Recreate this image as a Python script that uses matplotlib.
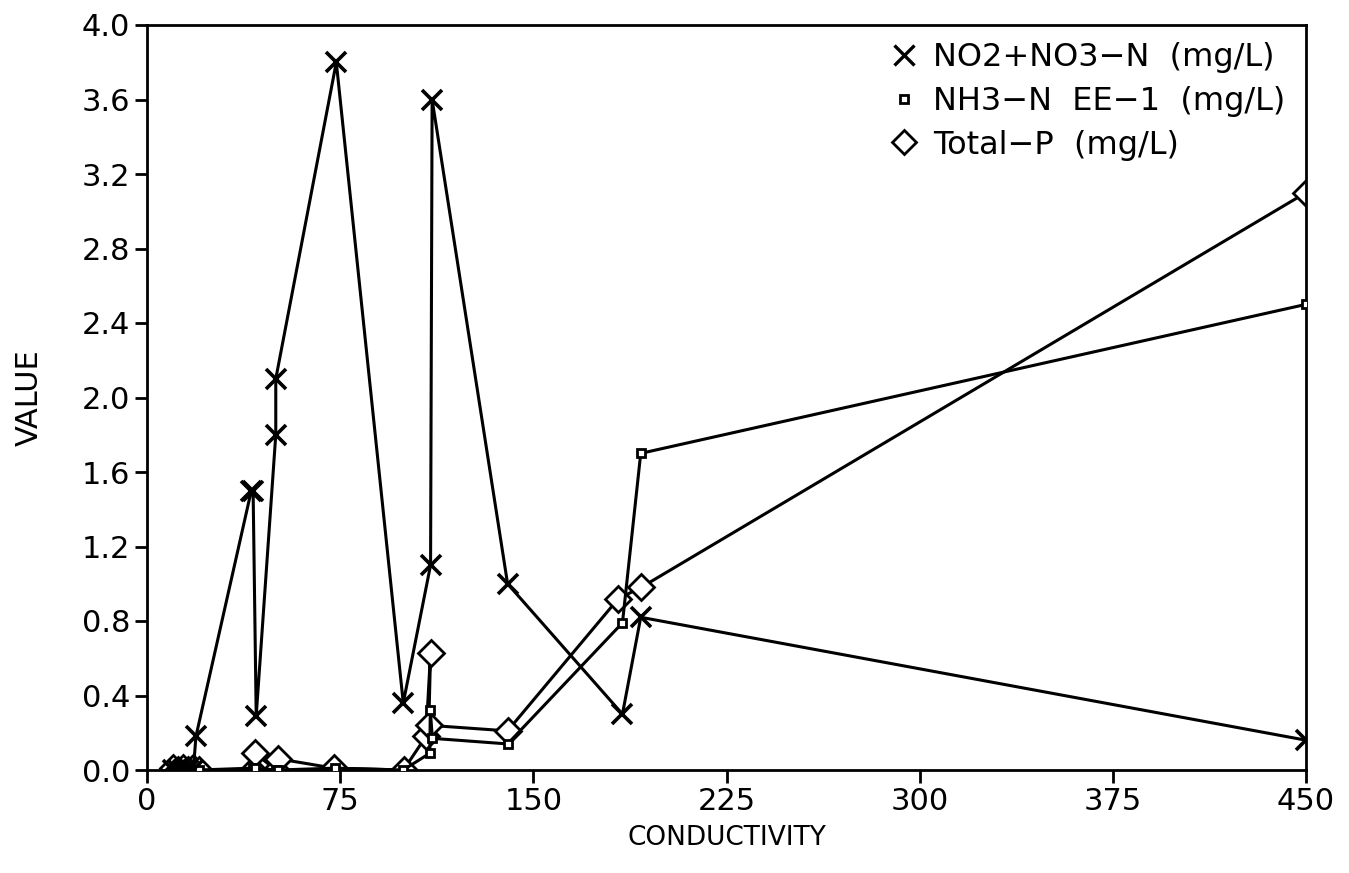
import matplotlib
matplotlib.use("Agg")
import matplotlib.pyplot as plt
from matplotlib.lines import Line2D

# Nitrate + nitrite nitrogen vs conductivity
no3_x = [10, 12, 14, 16, 18, 19, 40.5, 41.2, 42.4, 50, 50, 73.5, 99.5, 110.1, 110.7, 140, 184.6, 191.7, 450]
no3_y = [0.0, 0.0, 0.0, 0.0, 0.0, 0.18, 1.5, 1.5, 0.29, 1.8, 2.1, 3.8, 0.36, 1.1, 3.6, 1.0, 0.30, 0.82, 0.16]

# Ammonia nitrogen vs conductivity
nh3_x = [10, 12, 14, 16, 18, 20, 41, 42, 50, 51, 73, 99.5, 109.8, 110.0, 110.8, 140, 184.6, 191.7, 450]
nh3_y = [0.0, 0.0, 0.0, 0.0, 0.0, 0.0, 0.01, 0.01, 0.0, 0.0, 0.01, 0.0, 0.09, 0.32, 0.17, 0.14, 0.79, 1.70, 2.5]

# Total phosphorus vs conductivity
tp_x = [10, 12, 14, 16, 18, 20, 41, 42, 50, 51, 72.5, 99.6, 108.3, 110.1, 109.4, 140, 183, 191.8, 450]
tp_y = [0.01, 0.0, 0.01, 0.0, 0.01, 0.0, 0.0, 0.09, 0.0, 0.06, 0.01, 0.0, 0.18, 0.63, 0.24, 0.21, 0.92, 0.98, 3.1]

series_labels = ["NO2+NO3\u2212N  (mg/L)", "NH3\u2212N  EE\u22121  (mg/L)", "Total\u2212P  (mg/L)"]
x_ticks = [0, 75, 150, 225, 300, 375, 450]
y_ticks = [0.0, 0.4, 0.8, 1.2, 1.6, 2.0, 2.4, 2.8, 3.2, 3.6, 4.0]

plt.rcParams['font.family'] = ['DejaVu Sans']

W, H = 1349, 873
fig = plt.figure(figsize=(W / 100, H / 100), dpi=100)
ax = fig.add_axes([147 / W, 1 - 770 / H, (1306 - 147) / W, (770 - 25) / H])

lw = 2.2
ax.plot(tp_x, tp_y, color='black', lw=lw, marker='D', ms=13, mfc='white',
        mec='black', mew=2.0, zorder=2)
ax.plot(nh3_x, nh3_y, color='black', lw=lw, marker='s', ms=6, mfc='white',
        mec='black', mew=2.0, zorder=3)
ax.plot(no3_x, no3_y, color='black', lw=lw, marker='x', ms=15, mec='black',
        mew=2.6, zorder=4)

ax.set_xlim(0, 450)
ax.set_ylim(0, 4.0)
ax.set_xticks(x_ticks)
ax.set_yticks(y_ticks)
ax.set_yticklabels([f"{v:.1f}" for v in y_ticks])
ax.tick_params(direction='out', length=9, width=2, labelsize=22, pad=3, color='black')
for s in ax.spines.values():
    s.set_linewidth(2)

ax.set_xlabel("CONDUCTIVITY", fontsize=19)
ax.set_ylabel("VALUE", fontsize=22)
ax.yaxis.set_label_coords((29 - 147) / (1306 - 147), 0.5)
ax.xaxis.set_label_coords(0.5, -(838 - 770) / (770 - 25))
ax.xaxis.label.set_va('center')
ax.yaxis.label.set_va('center')

handles = [
    Line2D([], [], ls='none', marker='x', ms=14, mec='black', mew=2.4),
    Line2D([], [], ls='none', marker='s', ms=6, mfc='white', mec='black', mew=2.0),
    Line2D([], [], ls='none', marker='D', ms=12, mfc='white', mec='black', mew=2.0),
]
leg = ax.legend(handles, series_labels, loc='upper right', frameon=False,
                fontsize=23, handlelength=0.8, handletextpad=0.5,
                labelspacing=0.4, borderaxespad=0, borderpad=0,
                bbox_to_anchor=(1285 / W, 1 - 42 / H), bbox_transform=fig.transFigure)

fig.savefig("out.png", dpi=100)
